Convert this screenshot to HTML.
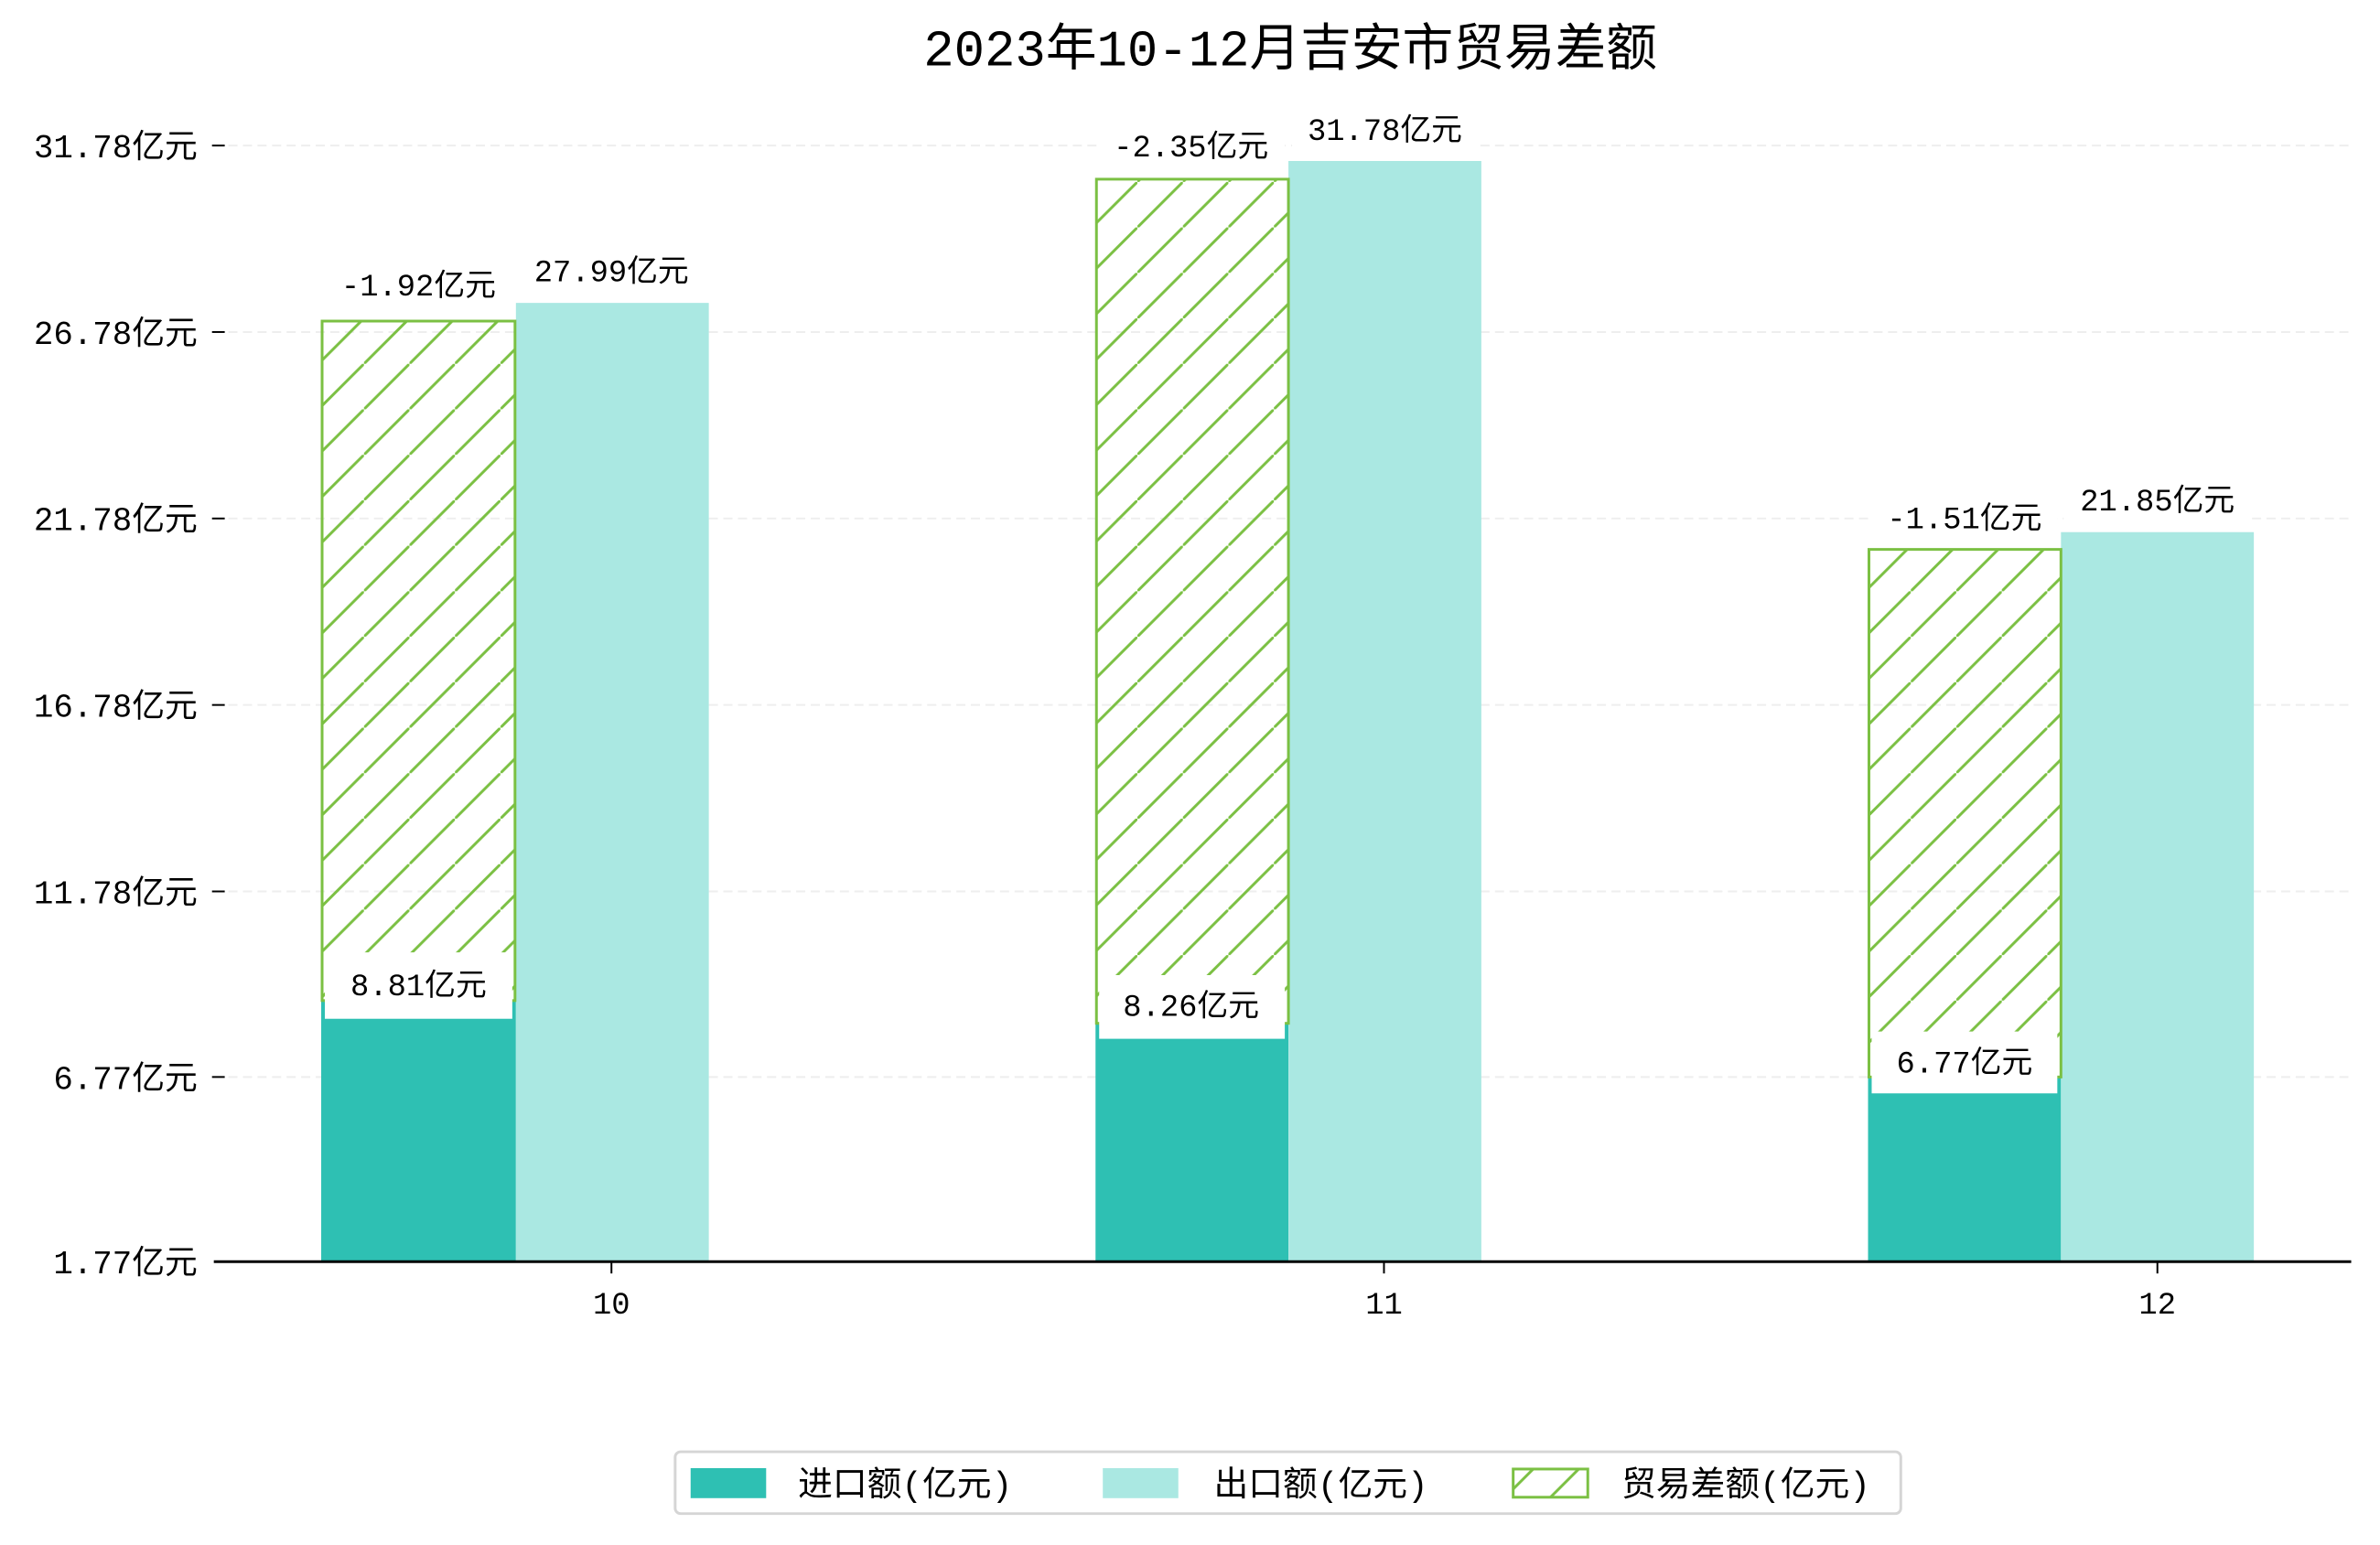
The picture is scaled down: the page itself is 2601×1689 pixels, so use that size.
<!DOCTYPE html>
<html><head><meta charset="utf-8"><style>
html,body{margin:0;padding:0;background:#fff}
svg{display:block}
text{font-family:"Liberation Mono","Noto Sans CJK SC",monospace;fill:#000}
</style></head><body>
<svg width="2601" height="1689" viewBox="0 0 2601 1689" xmlns="http://www.w3.org/2000/svg">
<defs>
<pattern id="h" patternUnits="userSpaceOnUse" width="50" height="50">
<line x1="-5" y1="55" x2="55" y2="-5" stroke="#7bc043" stroke-width="3"/>
</pattern>
</defs>
<g transform="scale(0.9944)">
<text x="1418" y="72" font-size="56" text-anchor="middle">2023年10-12月吉安市贸易差额</text>
<g stroke="#eeeeee" stroke-width="2" stroke-dasharray="10,6">
<line x1="235" x2="2584" y1="160" y2="160"/>
<line x1="235" x2="2584" y1="365" y2="365"/>
<line x1="235" x2="2584" y1="570" y2="570"/>
<line x1="235" x2="2584" y1="775" y2="775"/>
<line x1="235" x2="2584" y1="980" y2="980"/>
<line x1="235" x2="2584" y1="1184" y2="1184"/>
</g>
<g font-size="36" text-anchor="end">
<text x="217" y="173">31.78亿元</text>
<text x="217" y="378">26.78亿元</text>
<text x="217" y="583">21.78亿元</text>
<text x="217" y="788">16.78亿元</text>
<text x="217" y="993">11.78亿元</text>
<text x="217" y="1197">6.77亿元</text>
<text x="217" y="1400">1.77亿元</text>
</g>
<g stroke="#000" stroke-width="2">
<line x1="233" x2="247" y1="160" y2="160"/><line x1="233" x2="247" y1="365" y2="365"/>
<line x1="233" x2="247" y1="570" y2="570"/><line x1="233" x2="247" y1="775" y2="775"/>
<line x1="233" x2="247" y1="980" y2="980"/><line x1="233" x2="247" y1="1184" y2="1184"/>
</g>
<rect x="353" y="1100" width="214" height="287" fill="#2ec0b3"/>
<rect x="567" y="333" width="212" height="1054" fill="#aae8e2"/>
<rect x="354" y="353" width="212" height="747" fill="url(#h)" stroke="#7bc043" stroke-width="3"/>
<rect x="1204" y="1125" width="212" height="262" fill="#2ec0b3"/>
<rect x="1416" y="177" width="212" height="1210" fill="#aae8e2"/>
<rect x="1205" y="197" width="211" height="928" fill="url(#h)" stroke="#7bc043" stroke-width="3"/>
<rect x="2053" y="1184" width="212" height="203" fill="#2ec0b3"/>
<rect x="2265" y="585" width="212" height="802" fill="#aae8e2"/>
<rect x="2054" y="604" width="211" height="580" fill="url(#h)" stroke="#7bc043" stroke-width="3"/>
<g fill="#fff">
<rect x="357" y="285" width="206" height="66"/><rect x="570" y="270" width="204" height="60"/>
<rect x="357" y="1047" width="206" height="73"/>
<rect x="1208" y="130" width="204" height="65"/><rect x="1420" y="115" width="204" height="60"/>
<rect x="1208" y="1072" width="204" height="70"/>
<rect x="2057" y="540" width="204" height="62"/><rect x="2268" y="520" width="204" height="62"/>
<rect x="2057" y="1134" width="204" height="68"/>
</g>
<g font-size="34" text-anchor="middle">
<text x="460" y="325">-1.92亿元</text><text x="672" y="309">27.99亿元</text><text x="460" y="1094">8.81亿元</text>
<text x="1309" y="172">-2.35亿元</text><text x="1522" y="154">31.78亿元</text><text x="1309" y="1117">8.26亿元</text>
<text x="2159" y="581">-1.51亿元</text><text x="2371" y="561">21.85亿元</text><text x="2159" y="1179">6.77亿元</text>
</g>
<line x1="235" x2="2584" y1="1387" y2="1387" stroke="#000" stroke-width="3"/>
<g stroke="#000" stroke-width="2">
<line x1="672" x2="672" y1="1387" y2="1400"/><line x1="1521" x2="1521" y1="1387" y2="1400"/><line x1="2371" x2="2371" y1="1387" y2="1400"/>
</g>
<g font-size="34" text-anchor="middle">
<text x="672" y="1444">10</text><text x="1521" y="1444">11</text><text x="2371" y="1444">12</text>
</g>
<rect x="742" y="1596" width="1347" height="68" rx="6" fill="#fff" stroke="#d5d5d5" stroke-width="3"/>
<rect x="759" y="1614" width="83" height="33" fill="#2ec0b3"/>
<rect x="1212" y="1614" width="83" height="33" fill="#aae8e2"/>
<rect x="1663" y="1615" width="82" height="31" fill="url(#h)" stroke="#7bc043" stroke-width="3"/>
<g font-size="38">
<text x="877" y="1644">进口额(亿元)</text>
<text x="1334" y="1644">出口额(亿元)</text>
<text x="1782" y="1644">贸易差额(亿元)</text>
</g>
</g>
</svg>
</body></html>
